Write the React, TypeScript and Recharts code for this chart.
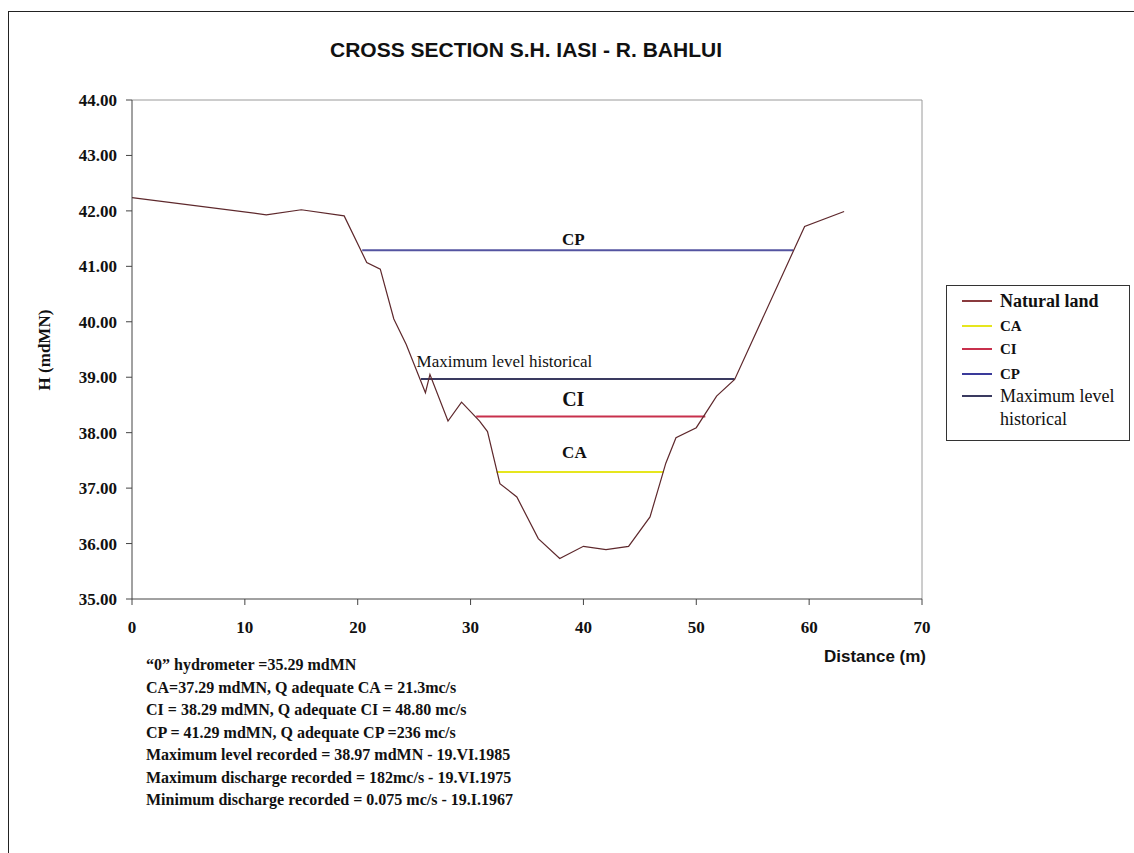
import { LineChart, Line, XAxis, YAxis, ReferenceLine, ReferenceDot, Label } from 'recharts'

const SERIF = "'Liberation Serif', 'Times New Roman', serif"
const SANS = "'Liberation Sans', Arial, sans-serif"

// natural land profile: distance (m) / elevation (mdMN)
const landX = [0, 11.9, 15.0, 18.8, 20.8, 22.0, 23.2, 24.3, 26.0, 26.4, 28.0, 29.2, 30.8, 31.5, 32.6, 34.1, 36.0, 37.9, 40.0, 42.0, 44.0, 45.9, 46.9, 47.3, 48.2, 50.0, 51.8, 53.4, 59.6, 63.1]
const landH = [42.24, 41.93, 42.02, 41.91, 41.07, 40.95, 40.05, 39.59, 38.72, 39.05, 38.21, 38.55, 38.21, 38.02, 37.08, 36.84, 36.09, 35.73, 35.95, 35.89, 35.95, 36.48, 37.17, 37.45, 37.91, 38.09, 38.66, 38.96, 41.72, 41.99]

// water levels: [from, to] distance and elevation
const caX = [32.3, 47.1]
const caH = 37.29
const ciX = [30.5, 50.8]
const ciH = 38.29
const cpX = [20.4, 58.6]
const cpH = 41.29
const maxX = [25.6, 53.4]
const maxH = 38.97

const xTicks = [0, 10, 20, 30, 40, 50, 60, 70]
const yTicks = [35, 36, 37, 38, 39, 40, 41, 42, 43, 44]

const notes = [
  '\u201C0\u201D hydrometer =35.29 mdMN',
  'CA=37.29 mdMN, Q adequate CA = 21.3mc/s',
  'CI = 38.29 mdMN, Q adequate CI = 48.80 mc/s',
  'CP = 41.29 mdMN, Q adequate CP =236 mc/s',
  'Maximum level recorded = 38.97 mdMN - 19.VI.1985',
  'Maximum discharge recorded = 182mc/s - 19.VI.1975',
  'Minimum discharge recorded = 0.075 mc/s - 19.I.1967',
]

const C_LAND = '#5e282c'
const C_CA = '#e6e61e'
const C_CI = '#c8304c'
const C_CP = '#5454a0'
const C_MAX = '#3a3a60'

const landData = landX.map((x, i) => ({ x, h: landH[i] }))
const levelData = (xs: number[], h: number) => xs.map(x => ({ x, h }))

const legendItems = [
  { label: 'Natural land', color: '#8a3a3e', bold: true, size: 18 },
  { label: 'CA', color: C_CA, bold: true, size: 15 },
  { label: 'CI', color: C_CI, bold: true, size: 15 },
  { label: 'CP', color: '#3a3a9a', bold: true, size: 15 },
  { label: 'Maximum level historical', color: C_MAX, bold: false, size: 18 },
]

const lvlLabel = (value: string, offset: number, size: number, bold = true) => ({
  value, position: 'top' as const, offset, fill: '#111', fontSize: size,
  fontWeight: bold ? 700 : 400, fontFamily: SERIF,
})

export default function App() {
  return (
    <div style={{ position: 'absolute', left: 0, top: 0, width: 1134, height: 853, overflow: 'hidden', background: '#fff' }}>
      {/* outer frame */}
      <div style={{ position: 'absolute', left: 8, top: 11, width: 1200, height: 900, border: '1px solid #222' }} />

      <div style={{
        position: 'absolute', left: 226, width: 600, top: 38, textAlign: 'center',
        fontFamily: SANS, fontWeight: 700, fontSize: 21, color: '#111',
      }}>
        CROSS SECTION S.H. IASI - R. BAHLUI
      </div>

      <div style={{ position: 'absolute', left: 0, top: 0 }}>
        <LineChart width={1134} height={853} margin={{ top: 100, right: 212, bottom: 194, left: 72 }}>
          <XAxis
            dataKey="x" type="number" domain={[0, 70]} ticks={xTicks} height={60}
            stroke="#444" tickSize={6} tickMargin={16} allowDuplicatedCategory={false}
            tick={{ fill: '#111', fontSize: 17, fontWeight: 700, fontFamily: SERIF }}
          >
            <Label content={(p: any) => {
              const vb = p.viewBox || {}
              return (
                <text x={vb.x + vb.width + 4} y={vb.y + 63} textAnchor="end"
                  fill="#111" fontSize={17} fontWeight={700} fontFamily={SANS}>
                  Distance (m)
                </text>
              )
            }} />
          </XAxis>
          <YAxis
            type="number" domain={[35, 44]} ticks={yTicks} width={60}
            stroke="#444" tickSize={6} tickMargin={9}
            tickFormatter={(v: number) => v.toFixed(2)}
            tick={{ fill: '#111', fontSize: 17, fontWeight: 700, fontFamily: SERIF }}
          >
            <Label content={() => (
              <text x={50} y={350} transform="rotate(-90 50 350)" textAnchor="middle"
                fill="#111" fontSize={17} fontWeight={700} fontFamily={SERIF}>
                H (mdMN)
              </text>
            )} />
          </YAxis>

          {/* plot frame top / right */}
          <ReferenceLine y={44} stroke="#9a9a9a" />
          <ReferenceLine x={70} stroke="#9a9a9a" />

          <Line data={levelData(cpX, cpH)} dataKey="h" name="CP" stroke={C_CP} strokeWidth={2} dot={false} isAnimationActive={false} />
          <Line data={levelData(maxX, maxH)} dataKey="h" name="Maximum level historical" stroke={C_MAX} strokeWidth={2} dot={false} isAnimationActive={false} />
          <Line data={levelData(ciX, ciH)} dataKey="h" name="CI" stroke={C_CI} strokeWidth={2} dot={false} isAnimationActive={false} />
          <Line data={levelData(caX, caH)} dataKey="h" name="CA" stroke={C_CA} strokeWidth={2} dot={false} isAnimationActive={false} />
          <Line data={landData} dataKey="h" name="Natural land" stroke={C_LAND} strokeWidth={1.2} dot={false} isAnimationActive={false} />

          <ReferenceDot x={39.1} y={cpH} r={0} stroke="none" label={lvlLabel('CP', 5, 17)} />
          <ReferenceDot x={33.0} y={maxH} r={0} stroke="none" label={lvlLabel('Maximum level historical', 12, 17, false)} />
          <ReferenceDot x={39.1} y={ciH} r={0} stroke="none" label={lvlLabel('CI', 11, 20)} />
          <ReferenceDot x={39.2} y={caH} r={0} stroke="none" label={lvlLabel('CA', 14, 17)} />
        </LineChart>
      </div>

      {/* legend */}
      <div style={{
        position: 'absolute', left: 946, top: 285, width: 184, height: 156, boxSizing: 'border-box',
        border: '1px solid #333', background: '#fff', fontFamily: SERIF, color: '#111',
      }}>
        {legendItems.map((it, i) => (
          <div key={it.label} style={{ position: 'absolute', left: 15, top: [4, 29, 52, 77, 99][i], display: 'flex', alignItems: 'flex-start' }}>
            <div style={{ width: 30, height: 2, background: it.color, marginTop: 10, flexShrink: 0 }} />
            <div style={{ marginLeft: 8, width: 130, fontSize: it.size, fontWeight: it.bold ? 700 : 400, lineHeight: '23px' }}>
              {it.label}
            </div>
          </div>
        ))}
      </div>

      {/* notes */}
      <div style={{
        position: 'absolute', left: 146, top: 654, fontFamily: SERIF, fontWeight: 700,
        fontSize: 16, lineHeight: '22.5px', color: '#111', whiteSpace: 'nowrap',
      }}>
        {notes.map(n => <div key={n}>{n}</div>)}
      </div>
    </div>
  )
}
